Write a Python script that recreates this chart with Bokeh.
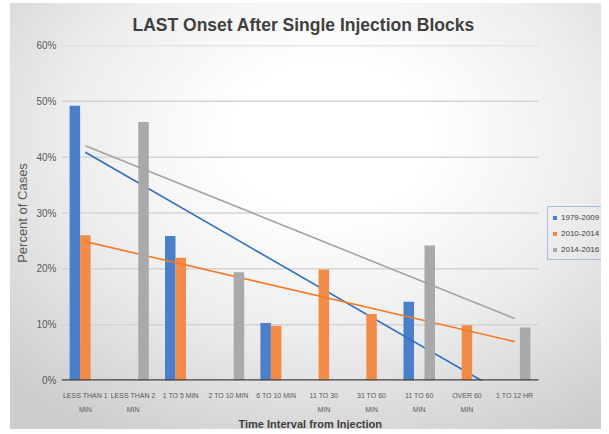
import numpy as np
from bokeh.plotting import figure
from bokeh.models import (Range1d, FixedTicker, PrintfTickFormatter, ColumnDataSource,
                          Legend, LegendItem, Title)
from bokeh.embed import file_html
from bokeh.resources import INLINE

# ---------------- data ----------------
categories = ["LESS THAN 1\nMIN", "LESS THAN 2\nMIN", "1 TO 5 MIN", "2 TO 10 MIN",
              "6 TO 10 MIN", "11 TO 30\nMIN", "31 TO 60\nMIN", "11 TO 60\nMIN",
              "OVER 60\nMIN", "1 TO 12 HR"]
series_names = ["1979-2009", "2010-2014", "2014-2016"]
s1979 = [49.2, None, 25.9, None, 10.3, None, None, 14.1, None, None]
s2010 = [26.0, None, 22.0, None, 9.8, 19.9, 11.9, None, 9.9, None]
s2014 = [None, 46.3, None, 19.4, None, None, None, 24.2, None, 9.5]
y_ticks = [0, 10, 20, 30, 40, 50, 60]

bar_colors = ["#4a80c9", "#f28b47", "#a9a9a9"]
line_colors = ["#2f6fc1", "#f47a2a", "#a3a3a3"]
offsets = [-0.22, 0.0, 0.22]
FONT = "Liberation Sans"

n = len(categories)
PX_PER_CAT = 47.7
FRAME_W = 540          # plotting area plus the legend column on the right
x_end = 0.5 + FRAME_W / PX_PER_CAT

p = figure(frame_width=FRAME_W, frame_height=335, output_backend="svg", toolbar_location=None,
           x_range=Range1d(0.5, x_end), y_range=Range1d(0, 60),
           min_border_left=61, min_border_right=0, min_border_top=45, min_border_bottom=46)
p.styles = {"background": "linear-gradient(to right, #ffffff 10px, rgba(255,255,255,0) 10px), "
                          "linear-gradient(to bottom, #ffffff 3px, rgba(255,255,255,0) 3px), "
                          "radial-gradient(ellipse 75% 80% at 55% 32%, #ffffff 22%, #ededed 58%, #cdcdcd 100%)"}
p.background_fill_alpha = 0
p.border_fill_alpha = 0
p.outline_line_color = None

# gridlines limited to the category area
grid_vals = y_ticks[1:]
p.segment(x0=[0.5] * len(grid_vals), x1=[n + 0.5] * len(grid_vals), y0=grid_vals, y1=grid_vals,
          line_color="#d4d4d4", line_width=1.5)

items = []
for i, (name, vals) in enumerate(zip(series_names, [s1979, s2010, s2014])):
    xs = [k + 1 + offsets[i] for k, v in enumerate(vals) if v is not None]
    ys = [v for v in vals if v is not None]
    src = ColumnDataSource(dict(x=xs, top=ys))
    r = p.vbar(x="x", top="top", bottom=0, width=0.22, source=src,
               fill_color=bar_colors[i], line_color=None)
    items.append(LegendItem(label=name, renderers=[r]))
    # linear trendline over category index
    cx = np.array([k + 1 for k, v in enumerate(vals) if v is not None], dtype=float)
    cy = np.array(ys, dtype=float)
    m, b = np.polyfit(cx, cy, 1)
    lx = np.array([1.0, float(n)])
    p.line(lx, m * lx + b, line_color=line_colors[i], line_width=1.6)

# baseline (0%) axis line over the category area
p.segment(x0=[0.5], x1=[n + 0.5], y0=[0], y1=[0], line_color="#404040", line_width=2.5)

# axes
p.xaxis.ticker = FixedTicker(ticks=list(range(1, n + 1)))
p.xaxis.major_label_overrides = {k + 1: c for k, c in enumerate(categories)}
p.xaxis.major_label_text_font_size = "7px"
p.xaxis.major_label_text_font = FONT
p.xaxis.major_label_text_color = "#595959"
p.xaxis.major_label_text_line_height = 2.0
p.xaxis.major_label_standoff = 11
p.xaxis.major_tick_out = 0
p.xaxis.major_tick_in = 0
p.xaxis.major_tick_line_color = None
p.xaxis.minor_tick_line_color = None
p.xaxis.axis_line_color = None

p.yaxis.ticker = FixedTicker(ticks=y_ticks)
p.yaxis.formatter = PrintfTickFormatter(format="%d%%")
p.yaxis.major_label_text_font_size = "10px"
p.yaxis.major_label_text_font = FONT
p.yaxis.major_label_text_color = "#595959"
p.yaxis.major_label_standoff = 5
p.yaxis.major_tick_out = 0
p.yaxis.major_tick_in = 0
p.yaxis.major_tick_line_color = None
p.yaxis.minor_tick_line_color = None
p.yaxis.axis_line_color = None
p.yaxis.axis_label = "Percent of Cases"
p.yaxis.axis_label_text_font = FONT
p.yaxis.axis_label_text_font_size = "13px"
p.yaxis.axis_label_text_font_style = "normal"
p.yaxis.axis_label_text_color = "#595959"
p.yaxis.axis_label_standoff = 3

p.xgrid.grid_line_color = None
p.ygrid.grid_line_color = None

# chart title (above) and x-axis title (below), placed over the category area
p.add_layout(Title(text="LAST Onset After Single Injection Blocks", align="left", offset=71,
                   text_font=FONT, text_font_size="17.5px", text_font_style="bold",
                   text_color="#404040", standoff=21), "above")
p.add_layout(Title(text="Time Interval from Injection", align="left", offset=177,
                   text_font=FONT, text_font_size="11px", text_font_style="bold",
                   text_color="#404040", standoff=0, text_line_height=0.8), "below")

legend = Legend(items=items, location=(486, 120), orientation="vertical",
                label_text_font=FONT, label_text_font_size="8px", label_text_color="#404040",
                glyph_width=5, glyph_height=5, label_standoff=4, spacing=4,
                label_height=12, padding=4, margin=0,
                border_line_color="#5b8fd0", border_line_width=1,
                background_fill_alpha=0)
p.add_layout(legend)

open("out.html", "w").write(file_html(p, INLINE))
